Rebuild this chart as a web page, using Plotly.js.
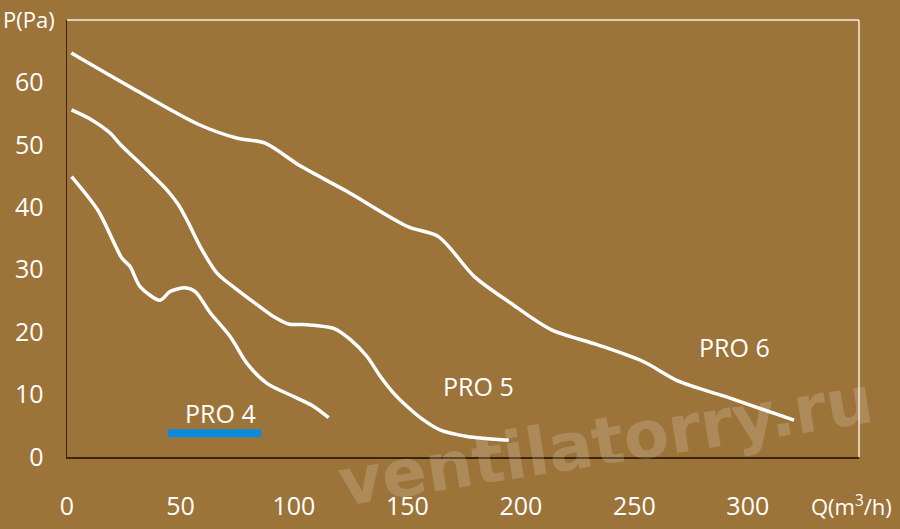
<!DOCTYPE html>
<html>
<head>
<meta charset="utf-8">
<script src="https://cdn.plot.ly/plotly-3.0.1.min.js"></script>
<style>
  html, body { margin: 0; padding: 0; background: #9c7339; }
  #chart { width: 900px; height: 529px; }
</style>
</head>
<body>
<div id="chart"></div>
<script>
// fan pressure curves, Q in m3/h, P in Pa

const pro4Q = [2, 13.8, 24.1, 27.8, 32.2, 41, 45.4, 52, 56.5, 63.1, 71.9, 79.3, 88.1, 99.8, 108.7, 115.3];
const pro4P = [44.9, 39.4, 31.9, 30.5, 27.3, 25.1, 26.5, 27.1, 26.5, 23.1, 19.3, 15.0, 11.8, 9.7, 8.1, 6.3];

const pro5Q = [2, 10.9, 19, 23.4, 35.2, 44, 49.1, 53.5, 58.7, 66, 74.9, 83.7, 91, 97.6, 105.7, 117.5,
               124.9, 132.2, 138.1, 144, 149.9, 157.2, 164.6, 176.3, 194.7];
const pro5P = [55.6, 54.0, 51.9, 50.1, 46.0, 42.8, 40.4, 37.5, 33.7, 29.5, 26.8, 24.4, 22.5, 21.3, 21.2, 20.6,
               18.8, 16.1, 12.9, 10.2, 8.1, 5.9, 4.3, 3.3, 2.7];

const pro6Q = [1.9, 29.6, 57.8, 74.7, 87.1, 102.9, 123.1, 150.2, 163.7, 179.5, 195.3, 213.3, 233.6, 253.9, 269.7, 290, 320.4];
const pro6P = [64.7, 58.9, 53.3, 51.1, 50.3, 46.6, 42.6, 36.9, 35.3, 28.9, 24.7, 20.4, 18.0, 15.3, 12.1, 9.7, 5.9];

// blue marker under the PRO 4 label
const markQ = [44.4, 85.6];
const markP = [3.8, 3.8];

const xTicks = [0, 50, 100, 150, 200, 250, 300];
const yTicks = [0, 10, 20, 30, 40, 50, 60];

const curveNames = ["PRO 4", "PRO 5", "PRO 6"];
const labelQ = [67.5, 181.5, 294.3];
const labelP = [7.1, 11.4, 17.6];


const bg = "#9c7339";
const font = "Open Sans, Noto Sans, sans-serif";

function curve(q, p, name){
    return {
        x: q,
        y: p,
        name: name,
        mode: "lines",
        line: {color: "#ffffff", width: 3.5, shape: "spline", smoothing: 0.8},
        hoverinfo: "skip"
    };
}

let traces = [
    curve(pro4Q, pro4P, "PRO 4"),
    curve(pro5Q, pro5P, "PRO 5"),
    curve(pro6Q, pro6P, "PRO 6"),
    {
        x: markQ,
        y: markP,
        mode: "lines",
        line: {color: "#0a8bdb", width: 8},
        hoverinfo: "skip"
    }
];

let notes = curveNames.map((n, i) => ({
    x: labelQ[i],
    y: labelP[i],
    xref: "x",
    yref: "y",
    xanchor: "center",
    yanchor: "middle",
    text: n,
    showarrow: false,
    font: {family: font, size: 25, color: "#ffffff"}
}));

notes.push({
    xref: "paper", yref: "paper",
    x: -0.048, y: 1.002,
    xanchor: "center", yanchor: "middle",
    text: "P(Pa)",
    showarrow: false,
    font: {family: font, size: 22, color: "#ffffff"}
});

notes.push({
    xref: "paper", yref: "paper",
    x: 0.99, y: -0.112,
    xanchor: "center", yanchor: "middle",
    text: "Q(m<sup>3</sup>/h)",
    showarrow: false,
    font: {family: font, size: 22, color: "#ffffff"}
});

// watermark
notes.push({
    xref: "paper", yref: "paper",
    x: 0.68, y: 0.035,
    xanchor: "center", yanchor: "middle",
    text: "ventilatorry.ru",
    textangle: -9,
    showarrow: false,
    font: {family: "DejaVu Sans, sans-serif", size: 66, weight: "bold", color: "rgba(255,255,255,0.17)"}
});


let layout = {
    width: 900,
    height: 529,
    paper_bgcolor: bg,
    plot_bgcolor: bg,
    showlegend: false,
    margin: {l: 67, r: 41, t: 20, b: 72},
    xaxis: {
        range: [0, 349],
        tickvals: xTicks,
        ticktext: xTicks.map(String),
        showgrid: false,
        zeroline: false,
        showline: true,
        linecolor: "#3b2509",
        linewidth: 1.5,
        ticks: "",
        ticklabelstandoff: 26,
        tickfont: {family: font, size: 25, color: "#ffffff"},
        fixedrange: true
    },
    yaxis: {
        range: [0, 70],
        tickvals: yTicks,
        ticktext: yTicks.map(String),
        showgrid: false,
        zeroline: false,
        showline: true,
        linecolor: "#3b2509",
        linewidth: 1.5,
        ticks: "",
        ticklabelstandoff: 17,
        tickfont: {family: font, size: 25, color: "#ffffff"},
        fixedrange: true
    },
    shapes: [
        {type: "line", xref: "paper", yref: "paper", x0: 0, x1: 1, y0: 1, y1: 1,
         line: {color: "#f4ede0", width: 1.5}},
        {type: "line", xref: "paper", yref: "paper", x0: 1, x1: 1, y0: 0, y1: 1,
         line: {color: "#f4ede0", width: 1.5}}
    ],
    annotations: notes
};

Plotly.newPlot("chart", traces, layout, {displayModeBar: false, staticPlot: true});
</script>
</body>
</html>
